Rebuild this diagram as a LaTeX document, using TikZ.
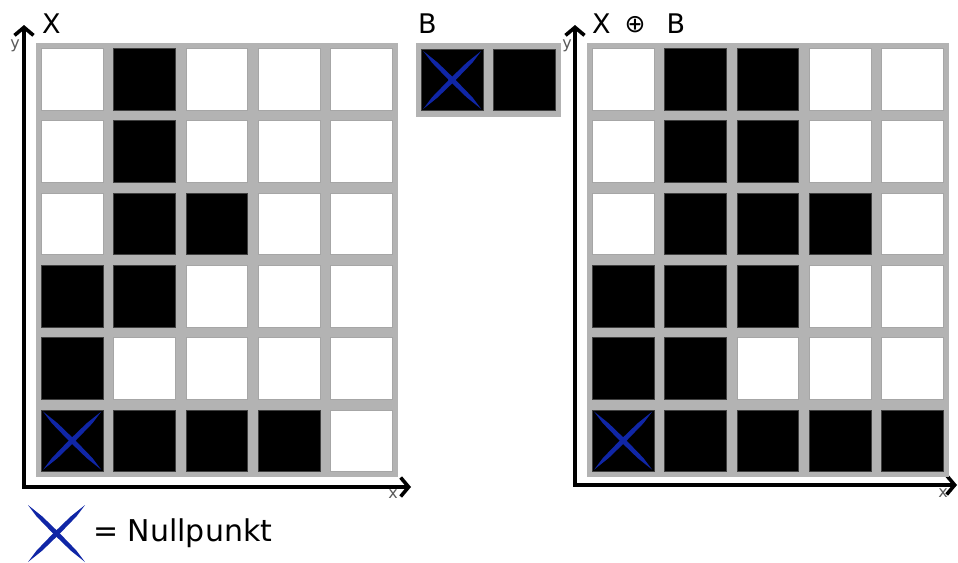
\documentclass[tikz,border=0pt]{standalone}
\usepackage{fontspec}
\setmainfont{DejaVu Sans}
\usetikzlibrary{arrows.meta}
\definecolor{nullblue}{RGB}{16,38,166}
\definecolor{gridgray}{RGB}{179,179,179}
\definecolor{labelgray}{RGB}{90,90,90}
% tapered blue cross marking the origin
\newcommand{\nullcross}[2]{%
  \fill[nullmark, shift={(#1)}, scale=#2]
    (-1,-1) -- (-0.5,-0.6) -- (0.12,0) -- (0.7,0.6) -- (1,1)
    -- (0.5,0.6) -- (-0.12,0) -- (-0.7,-0.6) -- cycle;
  \fill[nullmark, shift={(#1)}, scale=#2]
    (1,-1) -- (0.7,-0.6) -- (0.12,0) -- (-0.5,0.6) -- (-1,1)
    -- (-0.7,0.6) -- (-0.12,0) -- (0.5,-0.6) -- cycle;}

\begin{document}
\begin{tikzpicture}[
    x=1pt, y=-1pt,
    framebox/.style={fill=gridgray, draw=none},
    cellw/.style={fill=white, draw=gray!70, line width=0.6pt,
        minimum size=61.5pt, inner sep=0pt},
    cellb/.style={cellw, fill=black, draw=gray!50!black},
    axis/.style={line width=3.3pt, {Straight Barb[length=8pt,width=19pt,line width=3.6pt]}-{Straight Barb[length=8pt,width=19pt,line width=3.6pt]}},
    setlabel/.style={font=\fontsize{27}{30}\selectfont, anchor=base west, inner sep=0pt},
    axlabel/.style={font=\fontsize{16}{18}\selectfont, text=labelgray, inner sep=0pt},
    nullmark/.style={fill=nullblue, draw=none}
]
\useasboundingbox (0,0) rectangle (958,562);

% Axes
\coordinate (ly) at (24,25);
\coordinate (lx) at (411,487);
\coordinate (ry) at (575,25);
\coordinate (rx) at (957,485);
\draw[axis] (ly) |- (lx);
\draw[axis] (ry) |- (rx);
\node[axlabel] (lylab) at (15,46) {y};
\node[axlabel] (lxlab) at (393,494) {x};
\node[axlabel] (rylab) at (567,46) {y};
\node[axlabel] (rxlab) at (943,493) {x};

% Labels
\node[setlabel] (xlab) at (42,33) {X};
\node[setlabel] (blab) at (418,33) {B};
\node[setlabel] (xblab) at (592,33) {X\hskip14pt\raisebox{0.5pt}{\fontsize{25}{28}\selectfont ⊕}\hskip21pt B};

% Grid X
\fill[framebox] (36,43) rectangle ++(361.5,433.8);
\foreach \r/\row in {0/{w,b,w,w,w}, 1/{w,b,w,w,w}, 2/{w,b,b,w,w},
                     3/{b,b,w,w,w}, 4/{b,w,w,w,w}, 5/{b,b,b,b,w}} {
  \foreach \s [count=\c from 0] in \row {
    \node[cell\s] (x-\r-\c) at ({36+72.3*(\c+0.5)},{43+72.3*(\r+0.5)}) {};
  }
}

% Grid B
\fill[framebox] (416,43) rectangle ++(144.6,74);
\node[cellb] (b-0) at (452.2,80) {};
\node[cellb] (b-1) at (524.5,80) {};

% Grid X + B
\fill[framebox] (587,43) rectangle ++(361.5,433.8);
\foreach \r/\row in {0/{w,b,b,w,w}, 1/{w,b,b,w,w}, 2/{w,b,b,b,w},
                     3/{b,b,b,w,w}, 4/{b,b,w,w,w}, 5/{b,b,b,b,b}} {
  \foreach \s [count=\c from 0] in \row {
    \node[cell\s] (xb-\r-\c) at ({587+72.3*(\c+0.5)},{43+72.3*(\r+0.5)}) {};
  }
}

% Nullpunkt marks
\nullcross{x-5-0.center}{29}
\nullcross{b-0.center}{29}
\nullcross{xb-5-0.center}{29}
\coordinate (legx) at (56.5,533.5);
\nullcross{legx}{28.5}
\node[anchor=west, inner sep=0pt, font=\fontsize{30}{33}\selectfont] (legend) at (93,533) {= Nullpunkt};

\end{tikzpicture}
\end{document}
